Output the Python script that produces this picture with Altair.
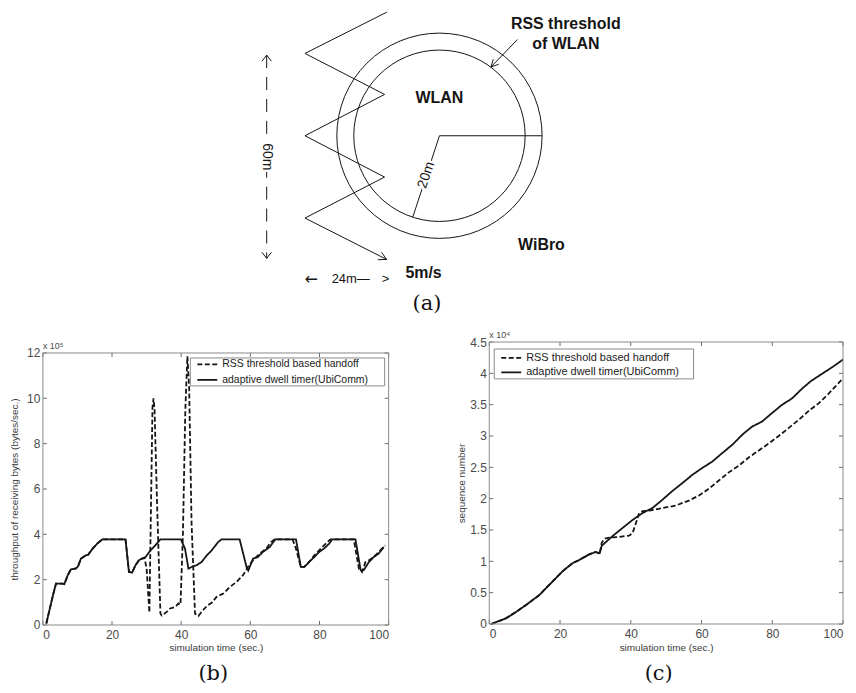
import altair as alt
import pandas as pd

# ------------------------------------------------------------------ data
SERIES = ["RSS threshold based handoff", "adaptive dwell timer(UbiComm)"]
X_TICKS = [0, 20, 40, 60, 80, 100]
X_TITLE = "simulation time (sec.)"

# (b) throughput of receiving bytes (x 10^5 bytes/sec.)
B_Y_TICKS = [0, 2, 4, 6, 8, 10, 12]
b_adapt_t = [1.0, 2.9, 3.8, 5.7, 6.2, 7.2, 8.1, 9.6, 10.2, 11.0, 12.4, 13.1, 14.4, 15.8, 17.2,
             23.9, 24.9, 25.8, 26.8, 27.8, 28.7, 29.7, 31.1, 32.5, 34.0, 39.9, 41.1, 42.1, 43.0,
             44.5, 45.9, 47.4, 48.8, 50.7, 51.7, 56.9, 58.9, 59.4, 60.8, 62.2, 63.6, 65.6, 67.0,
             67.3, 73.2, 74.6, 75.6, 77.0, 78.5, 79.9, 81.3, 82.8, 83.7, 90.4, 91.9, 92.8, 94.3,
             95.7, 97.1, 98.6]
b_adapt_v = [0.07, 1.3, 1.83, 1.83, 1.8, 2.2, 2.45, 2.5, 2.6, 2.93, 3.07, 3.1, 3.37, 3.6, 3.78,
             3.78, 2.34, 2.31, 2.64, 2.86, 2.93, 3.0, 3.29, 3.51, 3.78, 3.78, 3.37, 2.49, 2.56,
             2.64, 2.78, 3.07, 3.29, 3.66, 3.78, 3.78, 2.56, 2.4, 2.93, 3.0, 3.22, 3.44, 3.73,
             3.78, 3.78, 2.56, 2.56, 2.78, 3.0, 3.22, 3.37, 3.59, 3.78, 3.78, 2.42, 2.42, 2.78,
             3.0, 3.15, 3.44]
b_rss_t = [1.0, 2.9, 3.8, 5.7, 6.2, 7.2, 8.1, 9.6, 10.2, 11.0, 12.4, 13.1, 14.4, 15.8, 17.2,
           23.9, 24.9, 25.8, 26.8, 27.8, 28.7, 29.4, 30.0, 30.8, 31.7, 32.0, 32.3, 33.0, 34.0,
           34.4, 35.9, 36.8, 38.3, 39.2, 39.8, 40.5, 41.2, 41.8, 42.3, 43.0, 44.0, 45.0, 46.0,
           47.5, 49.0, 50.2, 52.2, 54.1, 56.0, 57.9, 59.3, 60.8, 62.7, 64.6, 66.0, 67.0, 72.2,
           73.2, 74.6, 75.6, 77.0, 78.5, 79.9, 81.3, 82.8, 83.2, 89.9, 91.4, 92.3, 93.3, 94.3,
           95.7, 97.1, 99.0]
b_rss_v = [0.07, 1.3, 1.83, 1.83, 1.8, 2.2, 2.45, 2.5, 2.6, 2.93, 3.07, 3.1, 3.37, 3.6, 3.78,
           3.78, 2.34, 2.31, 2.64, 2.86, 2.93, 2.95, 2.5, 0.55, 9.6, 10.0, 9.5, 5.5, 0.5,
           0.42, 0.59, 0.73, 0.8, 0.95, 0.9, 4.0, 9.5, 11.85, 10.5, 4.5, 0.5, 0.4, 0.6,
           0.85, 1.0, 1.24, 1.39, 1.68, 1.9, 2.2, 2.56, 2.86, 3.15, 3.37, 3.66, 3.78, 3.78,
           3.37, 2.56, 2.56, 2.78, 3.07, 3.29, 3.51, 3.73, 3.78, 3.78, 2.49, 2.34, 2.78, 2.86,
           3.0, 3.22, 3.51]

# (c) sequence number (x 10^4)
C_Y_TICKS = [0, 0.5, 1, 1.5, 2, 2.5, 3, 3.5, 4, 4.5]
c_adapt_t = [0.5, 1.9, 4.7, 7.5, 10.3, 14.1, 17.4, 20.7, 23.5, 25.4, 28.2, 30.1, 31.2, 31.8,
             34.8, 37.6, 40.5, 43.3, 46.1, 48.9, 51.7, 54.6, 57.4, 60.2, 63.0, 65.9, 68.7,
             71.5, 74.3, 77.1, 80.0, 82.8, 85.6, 88.5, 91.0, 94.0, 97.0, 100.0]
c_adapt_v = [0.0, 0.03, 0.09, 0.19, 0.30, 0.46, 0.65, 0.84, 0.97, 1.02, 1.11, 1.15, 1.13, 1.25,
             1.40, 1.53, 1.66, 1.77, 1.85, 1.98, 2.12, 2.25, 2.38, 2.49, 2.59, 2.73, 2.86,
             3.02, 3.15, 3.23, 3.37, 3.50, 3.60, 3.76, 3.88, 3.99, 4.10, 4.22]
c_rss_t = [0.5, 1.9, 4.7, 7.5, 10.3, 14.1, 17.4, 20.7, 23.5, 25.4, 28.2, 30.1, 31.2, 31.8,
           32.5, 33.9, 36.7, 39.5, 40.5, 41.4, 42.3, 43.3, 45.2, 48.9, 52.7, 56.4, 59.3, 62.1,
           64.9, 67.7, 70.6, 73.4, 76.2, 79.0, 81.8, 84.7, 87.5, 90.3, 93.1, 96.0, 100.0]
c_rss_v = [0.0, 0.03, 0.09, 0.19, 0.30, 0.46, 0.65, 0.84, 0.97, 1.02, 1.11, 1.15, 1.12, 1.30,
           1.36, 1.38, 1.39, 1.41, 1.45, 1.60, 1.76, 1.80, 1.81, 1.85, 1.89, 1.97, 2.05, 2.16,
           2.29, 2.42, 2.53, 2.66, 2.77, 2.88, 3.00, 3.13, 3.26, 3.40, 3.52, 3.68, 3.92]

# (a) scenario sketch, schematic metres (circle centre at origin)
zig_x = [-15.5, -39.7, -16.2, -39.7, -16.2, -39.7, -15.6]
zig_y = [36.5, 24.3, 12.2, 0.0, -12.2, -24.3, -36.5]
# straight strokes: arrow heads, radius lines, threshold pointer, dimension arrow heads
seg_x1 = [-15.6, -15.6, 0.0, 0.0, 23.0, 15.2, 15.2, -51.0, -51.0, -51.0, -51.0]
seg_y1 = [-36.5, -36.5, 0.0, 0.0, 28.4, 20.3, 20.3, 23.8, 23.8, -36.2, -36.2]
seg_x2 = [-18.2, -17.1, 30.3, -7.9, 15.2, 15.9, 17.5, -52.4, -49.6, -52.4, -49.6]
seg_y2 = [-36.6, -34.4, 0.0, -24.1, 20.3, 22.6, 21.1, 22.0, 22.0, -34.4, -34.4]
dim_x = [-51.0]
dim_y1 = [23.8]
dim_y2 = [-36.2]
cell_x = [0.0]
cell_y = [0.0]
bold_text = ["WLAN", "RSS threshold", "of WLAN", "WiBro", "5m/s"]
bold_x = [0.0, 37.3, 37.3, 30.1, -4.7]
bold_y = [11.0, 33.0, 27.1, -32.2, -40.5]
plain_text = ["24m\u2014", ">"]
plain_x = [-26.2, -15.9]
plain_y = [-42.4, -42.4]
arrow_text = ["\u2190"]
arrow_x = [-37.9]
arrow_y = [-42.4]
rot_text = ["60m", "20m"]
rot_x = [-51.0, -3.9]
rot_y = [-6.2, -11.6]
rot_angle = [90, 288]
tag_a_x = [-3.7]
tag_a_y = [-49.8]

# ------------------------------------------------------------------ style
SANS = "Liberation Sans"
SERIF = "DejaVu Serif"
INK = "#151515"
LABEL = "#4a4a4a"
TITLE = "#3a3a3a"
FRAME = "#8a8a8a"
TICK = "#6a6a6a"
DASHES = [[5, 2.5], [1, 0]]
NO_FRAME = alt.ViewBackground(stroke="transparent")

one = pd.DataFrame({"k": [0]})


def series_frame(t1, v1, t2, v2):
    return pd.concat([
        pd.DataFrame({"t": t1, "v": v1, "series": SERIES[0]}),
        pd.DataFrame({"t": t2, "v": v2, "series": SERIES[1]}),
    ], ignore_index=True)


def panel(df, W, H, off, ymax, yticks, yfmt, ytitle, ytitle_x, xtitle_dy, exp_text, tag,
          tag_x, tag_dy, box, rows, samp, text_x, pin_left, leg_fs):
    """Plot frame occupies y in [off, off+H] of a cell that is off+H tall."""
    T = off + H
    xs = alt.Scale(domain=[0, 100], nice=False, zero=False)
    ys = alt.Scale(domain=[0, ymax], nice=False, zero=False, range=[T, off])
    x_axis = alt.Axis(values=X_TICKS, title=X_TITLE, ticks=False, domain=False, grid=False,
                      labelFont=SANS, labelFontSize=12, labelColor=LABEL, labelPadding=5,
                      titleFont=SANS, titleFontSize=10, titleFontWeight="normal",
                      titleColor=TITLE, titleY=xtitle_dy, titleBaseline="middle")
    y_axis = alt.Axis(values=yticks, format=yfmt, title=ytitle, ticks=False, domain=False,
                      grid=False, labelFont=SANS, labelFontSize=12, labelColor=LABEL,
                      labelPadding=3, titleFont=SANS, titleFontSize=10,
                      titleFontWeight="normal", titleColor=TITLE, titleX=ytitle_x,
                      titleY=off + H / 2, titleAngle=270, titleBaseline="middle")
    xa = alt.X("t:Q", scale=xs, axis=x_axis)
    ya = alt.Y("v:Q", scale=ys, axis=y_axis)
    frame = alt.Chart(one).mark_rect(fillOpacity=0, stroke=FRAME, strokeWidth=1).encode(
        x=alt.value(0), x2=alt.value(W), y=alt.value(off), y2=alt.value(T))
    lines = alt.Chart(df).mark_line(strokeWidth=1.8, color=INK).encode(
        x=xa, y=ya,
        strokeDash=alt.StrokeDash("series:N", scale=alt.Scale(domain=SERIES, range=DASHES),
                                  legend=None),
    )
    xt = alt.Chart(pd.DataFrame({"t": X_TICKS})).mark_rule(color=TICK, strokeWidth=1)
    yt = alt.Chart(pd.DataFrame({"v": yticks})).mark_rule(color=TICK, strokeWidth=1)
    ticks = [
        xt.encode(x=xa, y=alt.value(T), y2=alt.value(T - 4)),
        xt.encode(x=xa, y=alt.value(off), y2=alt.value(off + 4)),
        yt.encode(y=ya, x=alt.value(0), x2=alt.value(4)),
        yt.encode(y=ya, x=alt.value(W), x2=alt.value(W - 4)),
    ]
    legend_box = alt.Chart(one).mark_rect(fill="white", stroke=FRAME, strokeWidth=1).encode(
        x=alt.value(box[0]), x2=alt.value(box[2]), y=alt.value(off + box[1]),
        y2=alt.value(off + box[3]))
    legend_items = []
    for name, dash, r in zip(SERIES, DASHES, rows):
        legend_items.append(
            alt.Chart(one).mark_rule(color=INK, strokeWidth=1.8, strokeDash=dash).encode(
                x=alt.value(samp[0]), x2=alt.value(samp[1]), y=alt.value(off + r),
                y2=alt.value(off + r)))
        legend_items.append(
            alt.Chart(one).mark_text(font=SANS, fontSize=leg_fs, color="#222222",
                                     align="left", baseline="middle").encode(
                x=alt.value(text_x), y=alt.value(off + r), text=alt.value(name)))
    expo = alt.Chart(one).mark_text(font=SANS, fontSize=9, color=LABEL, align="left",
                                    baseline="middle").encode(
        x=alt.value(0), y=alt.value(off - 7), text=alt.value(exp_text))
    tag_mark = alt.Chart(one).mark_text(font=SERIF, fontSize=21, color="#111111",
                                        align="center", baseline="middle").encode(
        x=alt.value(tag_x), y=alt.value(T + tag_dy), text=alt.value(tag))
    pin = alt.Chart(one).mark_rule(color="white", strokeWidth=1).encode(
        x=alt.value(pin_left), x2=alt.value(pin_left), y=alt.value(off + 1),
        y2=alt.value(off + 2))
    return alt.layer(pin, lines, *ticks, frame, legend_box, *legend_items, expo,
                     tag_mark).properties(width=W, height=T, view=NO_FRAME)


# ------------------------------------------------------------------ (a) sketch
SKETCH_W = 806
xsd = alt.Scale(domain=[-117.06, 120], nice=False, zero=False)
ysd = alt.Scale(domain=[-54.12, 37.06], nice=False, zero=False)


def X(f):
    return alt.X(f, scale=xsd, axis=None)


def Y(f):
    return alt.Y(f, scale=ysd, axis=None)


zig_df = pd.DataFrame({"x": zig_x, "y": zig_y, "i": list(range(len(zig_x)))})
seg_df = pd.DataFrame({"x": seg_x1, "y": seg_y1, "x2": seg_x2, "y2": seg_y2})
dim_df = pd.DataFrame({"x": dim_x, "y": dim_y1, "y2": dim_y2})
cell_df = pd.DataFrame({"x": cell_x, "y": cell_y})
bold_df = pd.DataFrame({"x": bold_x, "y": bold_y, "label": bold_text})
plain_df = pd.DataFrame({"x": plain_x, "y": plain_y, "label": plain_text})
arrow_df = pd.DataFrame({"x": arrow_x, "y": arrow_y, "label": arrow_text})
tag_a_df = pd.DataFrame({"x": tag_a_x, "y": tag_a_y, "label": ["(a)"]})

sketch_layers = [
    alt.Chart(zig_df).mark_line(color=INK, strokeWidth=1).encode(x=X("x:Q"), y=Y("y:Q"),
                                                                 order="i:Q"),
    alt.Chart(seg_df).mark_rule(color=INK, strokeWidth=1).encode(
        x=X("x:Q"), y=Y("y:Q"), x2="x2:Q", y2="y2:Q"),
    alt.Chart(dim_df).mark_rule(color=INK, strokeWidth=1, strokeDash=[13, 9]).encode(
        x=X("x:Q"), y=Y("y:Q"), y2="y2:Q"),
    alt.Chart(cell_df).mark_point(shape="circle", filled=False, size=42436, color=INK,
                                  strokeWidth=1, opacity=1).encode(x=X("x:Q"), y=Y("y:Q")),
    alt.Chart(cell_df).mark_point(shape="circle", filled=False, size=29584, color=INK,
                                  strokeWidth=1, opacity=1).encode(x=X("x:Q"), y=Y("y:Q")),
    alt.Chart(bold_df).mark_text(font=SANS, fontSize=16, fontWeight="bold", color=INK).encode(
        x=X("x:Q"), y=Y("y:Q"), text="label:N"),
    alt.Chart(plain_df).mark_text(font=SANS, fontSize=13, color=INK).encode(
        x=X("x:Q"), y=Y("y:Q"), text="label:N"),
    alt.Chart(arrow_df).mark_text(font="DejaVu Sans", fontSize=16, color=INK).encode(
        x=X("x:Q"), y=Y("y:Q"), text="label:N"),
    alt.Chart(tag_a_df).mark_text(font=SERIF, fontSize=21, color="#111111").encode(
        x=X("x:Q"), y=Y("y:Q"), text="label:N"),
]
for lbl, rx, ry, ang in zip(rot_text, rot_x, rot_y, rot_angle):
    d = pd.DataFrame({"x": [rx], "y": [ry], "label": [lbl]})
    sketch_layers.append(alt.Chart(d).mark_text(font=SANS, fontSize=14, color="white",
                                                stroke="white", strokeWidth=5, angle=ang).encode(
        x=X("x:Q"), y=Y("y:Q"), text="label:N"))
    sketch_layers.append(alt.Chart(d).mark_text(font=SANS, fontSize=14, color=INK,
                                                angle=ang).encode(
        x=X("x:Q"), y=Y("y:Q"), text="label:N"))

sketch = alt.layer(*sketch_layers).properties(width=SKETCH_W, height=310, view=NO_FRAME)

# ------------------------------------------------------------------ (b), (c)
panel_b = panel(series_frame(b_rss_t, b_rss_v, b_adapt_t, b_adapt_v), 347, 273, 11, 12,
                B_Y_TICKS, "d", "throughput of receiving bytes (bytes/sec.)", -28.5, 23,
                "x 10\u2075", "(b)", 171, 49, (148, 5, 343, 33), (11.5, 27), (155, 175), 180,
                -34, 10.5)
panel_c = panel(series_frame(c_rss_t, c_rss_v, c_adapt_t, c_adapt_v), 355, 283, 0, 4.5,
                C_Y_TICKS, ".2~f", "sequence number", -28, 24, "x 10\u2074", "(c)",
                170, 50, (5, 7, 205, 37), (16, 30.5), (12, 32), 37, -34, 11)

row = alt.hconcat(panel_b, panel_c, spacing=101, bounds="flush")
chart = alt.vconcat(sketch, row, spacing=23, bounds="flush").properties(
    padding=0, background="white")

chart.save("out.html", embed_options={"renderer": "svg", "actions": False})
